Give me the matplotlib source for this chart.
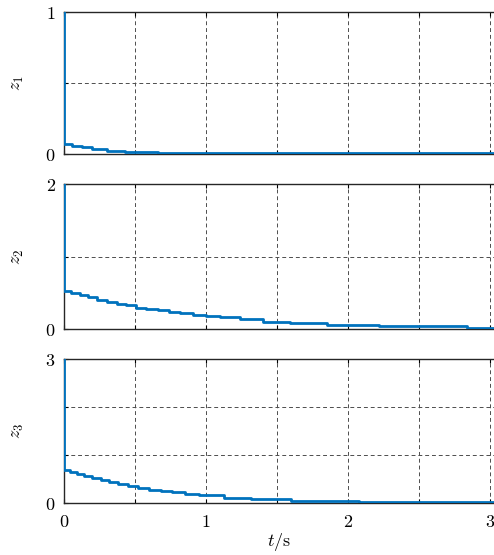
import numpy as np
import matplotlib
matplotlib.use("Agg")
import matplotlib.pyplot as plt

plt.rcParams['mathtext.fontset'] = 'cm'
plt.rcParams['font.family'] = 'DejaVu Serif'

# sample-and-hold values (t in s)
t1 = [0, 0, 0.054, 0.125, 0.195, 0.30, 0.43, 0.66, 3.05]
z1 = [1, 0.07, 0.058, 0.047, 0.035, 0.023, 0.012, 0.004, 0.004]

t2 = [0, 0, 0.05, 0.11, 0.17, 0.23, 0.30, 0.37, 0.44, 0.51, 0.58, 0.66, 0.74,
      0.82, 0.91, 1.00, 1.10, 1.24, 1.40, 1.59, 1.85, 2.22, 2.84, 3.05]
z2 = [2, 0.53, 0.50, 0.47, 0.44, 0.41, 0.38, 0.35, 0.33, 0.30, 0.28, 0.26, 0.24,
      0.22, 0.20, 0.185, 0.17, 0.14, 0.105, 0.083, 0.06, 0.045, 0.022, 0.022]

t3 = [0, 0, 0.04, 0.09, 0.14, 0.20, 0.26, 0.32, 0.38, 0.45, 0.52, 0.60, 0.68,
      0.76, 0.85, 0.95, 1.13, 1.32, 1.60, 2.08, 3.05]
z3 = [3, 0.69, 0.64, 0.60, 0.56, 0.52, 0.48, 0.44, 0.40, 0.36, 0.32, 0.28, 0.25,
      0.22, 0.19, 0.16, 0.11, 0.083, 0.048, 0.012, 0.012]

x_ticks = [0, 0.5, 1, 1.5, 2, 2.5, 3]
x_labels = ['$0$', '', '$1$', '', '$2$', '', '$3$']

panels = [
    (t1, z1, [0, 0.5, 1], ['$0$', '', '$1$'], '$z_1$', [0.1296, 0.7225, 0.8704, 0.2559]),
    (t2, z2, [0, 1, 2], ['$0$', '', '$2$'], '$z_2$', [0.1296, 0.4067, 0.8704, 0.2613]),
    (t3, z3, [0, 1, 2, 3], ['$0$', '', '', '$3$'], '$z_3$', [0.1296, 0.0937, 0.8704, 0.2595]),
]

fig = plt.figure(figsize=(4.94, 5.55), dpi=100)

for i, (t, z, yt, yl, lab, pos) in enumerate(panels):
    ax = fig.add_axes(pos)
    ax.step(t, z, where='post', color='#0072BD', lw=2, zorder=3)
    ax.set_xlim(0, 3.03)
    ax.set_ylim(yt[0], yt[-1])
    ax.set_xticks(x_ticks)
    ax.set_yticks(yt)
    ax.set_yticklabels(yl)
    if i == 2:
        ax.set_xticklabels(x_labels)
        ax.set_xlabel(r'$t/\mathrm{s}$', fontsize=13, labelpad=0)
    else:
        ax.set_xticklabels([])
    ax.set_ylabel(lab, fontsize=13, labelpad=14)
    ax.grid(True, color='0.3', lw=0.7, ls=(0, (4, 3)))
    ax.tick_params(direction='in', length=3, width=0.8, labelsize=13,
                   top=True, colors='black', pad=6)
    ax.tick_params(axis='x', pad=7)
    ax.spines['right'].set_visible(False)
    for s in ['left', 'top', 'bottom']:
        ax.spines[s].set_linewidth(1.0)
        ax.spines[s].set_color('#262626')

fig.savefig('out.png', dpi=100)
